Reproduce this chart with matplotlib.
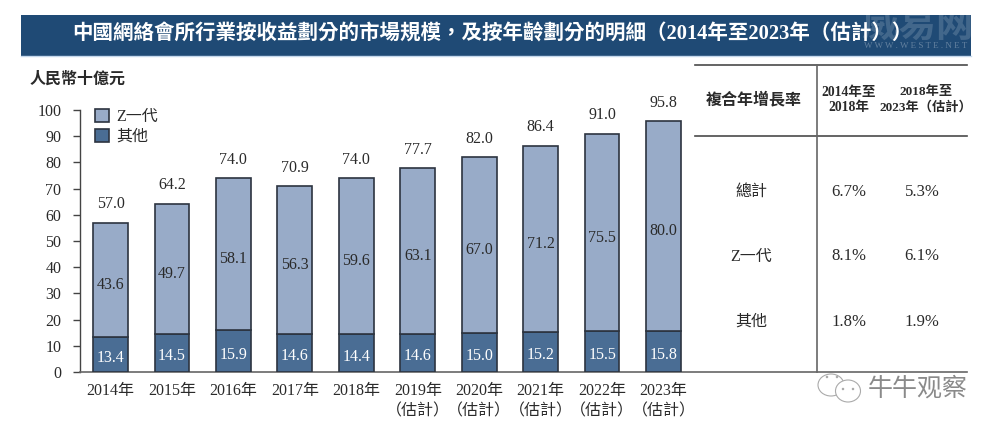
import matplotlib
matplotlib.use("Agg")
import matplotlib.pyplot as plt
from matplotlib.patches import Rectangle, Ellipse, Patch
import numpy as np

plt.rcParams['font.family'] = ['Liberation Serif', 'Noto Sans CJK TC', 'DejaVu Sans']

years = ['2014年', '2015年', '2016年', '2017年', '2018年',
         '2019年\n（估計）', '2020年\n（估計）', '2021年\n（估計）', '2022年\n（估計）', '2023年\n（估計）']
gen_z = [43.6, 49.7, 58.1, 56.3, 59.6, 63.1, 67.0, 71.2, 75.5, 80.0]
other = [13.4, 14.5, 15.9, 14.6, 14.4, 14.6, 15.0, 15.2, 15.5, 15.8]
total = [57.0, 64.2, 74.0, 70.9, 74.0, 77.7, 82.0, 86.4, 91.0, 95.8]
y_ticks = list(range(0, 101, 10))
series_names = ['Z一代', '其他']

title = '中國網絡會所行業按收益劃分的市場規模，及按年齡劃分的明細（2014年至2023年（估計））'
unit = '人民幣十億元'
table_head = '複合年增長率'
table_periods = ['2014年至\n2018年', '2018年至\n2023年（估計）']
table_rows = ['總計', 'Z一代', '其他']
table_col1 = ['6.7%', '8.1%', '1.8%']
table_col2 = ['5.3%', '6.1%', '1.9%']

W, H = 1000, 433
LIGHT, DARK, EDGE, INK = '#98abc8', '#4a6d94', '#2c3440', '#2a2a2a'

fig = plt.figure(figsize=(W / 100, H / 100), dpi=100, facecolor='white')

# chart axes, placed in pixels
L, R, T, B = 79.5, 967, 110, 372
ax = fig.add_axes([L / W, 1 - B / H, (R - L) / W, (B - T) / H])
x0, step = 110.5, 61.45
ax.set_xlim((L - x0) / step, (R - x0) / step)
ax.set_ylim(0, 100)
x = np.arange(len(years))
ax.bar(x, other, width=0.565, color=DARK, edgecolor=EDGE, linewidth=1.2, zorder=3)
ax.bar(x, gen_z, width=0.565, bottom=other, color=LIGHT, edgecolor=EDGE, linewidth=1.2, zorder=3)

for i in x:
    ax.text(i, total[i] + 7, f'{total[i]:.1f}', ha='center', va='center', fontsize=11.5, color=INK)
    ax.text(i, other[i] + gen_z[i] / 2 - 2, f'{gen_z[i]:.1f}', ha='center', va='center', fontsize=11.5, color=INK, zorder=4)
    ax.text(i, other[i] / 2 - 1.3, f'{other[i]:.1f}', ha='center', va='center', fontsize=11.5, color='white', zorder=4)

for s in ('top', 'right'):
    ax.spines[s].set_visible(False)
ax.spines['left'].set_color('#444444')
ax.spines['left'].set_linewidth(1.0)
ax.spines['bottom'].set_color('#666666')
ax.spines['bottom'].set_linewidth(1.2)
ax.set_yticks(y_ticks)
ax.tick_params(axis='y', length=5, width=1, color='#444444', labelsize=11.5, labelcolor=INK, pad=8)
ax.set_xticks(x)
ax.set_xticklabels(years, fontsize=11.5, color=INK, linespacing=1.35)
ax.tick_params(axis='x', length=0, pad=8)

handles = [Patch(facecolor=LIGHT, edgecolor=EDGE, linewidth=1.2),
           Patch(facecolor=DARK, edgecolor=EDGE, linewidth=1.2)]
ax.legend(handles, series_names, loc='upper left', bbox_to_anchor=((87 - L) / (R - L), 1.035),
          frameon=False, fontsize=11.5, handlelength=0.9, handleheight=0.9,
          handletextpad=0.45, labelspacing=0.25, borderpad=0, labelcolor=INK)

# overlay in pixel coordinates for banner, table and marks
ov = fig.add_axes([0, 0, 1, 1], facecolor='none')
ov.set_xlim(0, W)
ov.set_ylim(H, 0)
ov.axis('off')

banner = Rectangle((21, 14.5), 950, 41.5, facecolor='#1f4a75', edgecolor='none')
ov.add_patch(banner)
ov.plot([21, 971], [56, 56], color='#c5d8ec', lw=1)
ov.text(492, 34, title, ha='center', va='center', fontsize=14.75, fontweight='bold', color='white')
ov.text(30, 80, unit, ha='left', va='center', fontsize=11.5, fontweight='bold', color=INK)

ln = '#4a4a4a'
ov.plot([695, 967], [65, 65], color=ln, lw=1.2)
ov.plot([695, 967], [136, 136], color=ln, lw=1.2)
ov.plot([817, 817], [65, 372], color='#666666', lw=1.2)
ov.text(754, 100, table_head, ha='center', va='center', fontsize=11.5, fontweight='bold', color=INK)
ov.text(849, 100, table_periods[0], ha='center', va='center', fontsize=9.8, fontweight='bold', color=INK, linespacing=1.2)
ov.text(926, 100, table_periods[1], ha='center', va='center', fontsize=9.5, fontweight='bold', color=INK, linespacing=1.25)
for yy, a, b, c in zip([191.5, 256.5, 321.5], table_rows, table_col1, table_col2):
    ov.text(751, yy, a, ha='center', va='center', fontsize=11.5, color=INK)
    ov.text(849, yy, b, ha='center', va='center', fontsize=12, color=INK)
    ov.text(922, yy, c, ha='center', va='center', fontsize=12, color=INK)

# watermarks
wm = ov.text(917, 27, '威易网', ha='center', va='center', fontsize=27, fontweight='bold', color='white', alpha=0.16)
wm.set_clip_path(banner)
wm2 = ov.text(916, 46, 'W W W . W E S T E . N E T', ha='center', va='center', fontsize=6.5, color='white', alpha=0.3)
wm2.set_clip_path(banner)
ov.add_patch(Ellipse((831, 385), 26, 22, facecolor='white', edgecolor='#aaaaaa', lw=0.8, zorder=5))
ov.add_patch(Ellipse((848, 391), 25, 22, facecolor='white', edgecolor='#aaaaaa', lw=0.8, zorder=6))
for ex, ey in [(827, 377), (837, 377), (843, 389), (853, 389)]:
    ov.add_patch(Ellipse((ex, ey), 2.5, 2.5, facecolor='#aaaaaa', edgecolor='none', zorder=7))
ov.text(918, 389, '牛牛观察', ha='center', va='center', fontsize=18, color='#8a8a8a', zorder=7)

fig.savefig('out.png', dpi=100, facecolor='white')
